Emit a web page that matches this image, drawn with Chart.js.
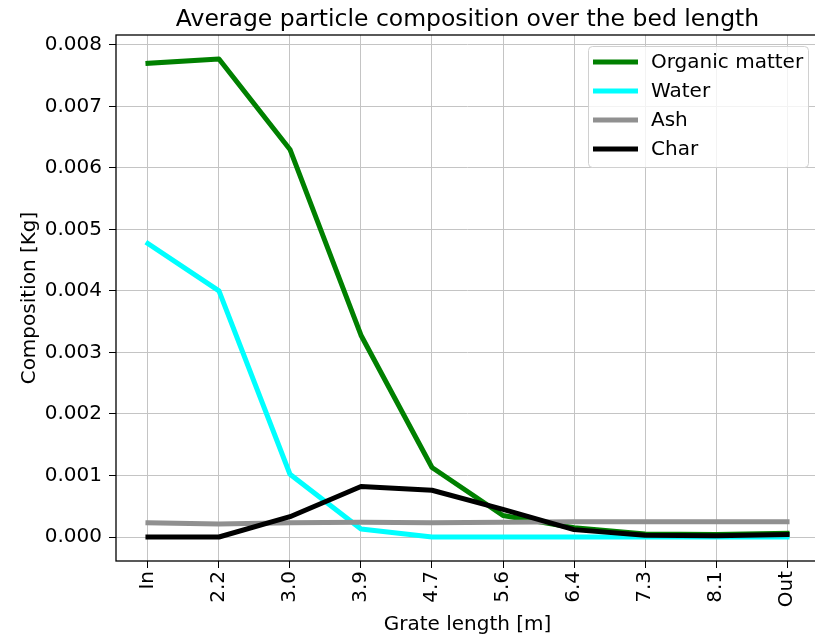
<!DOCTYPE html>
<html>
<head>
<meta charset="utf-8">
<script src="https://cdn.jsdelivr.net/npm/chart.js@4.4.1/dist/chart.umd.min.js"></script>
<style>
html, body { margin: 0; padding: 0; overflow: hidden; background: #fff; }
#wrap { width: 822px; height: 638px; }
</style>
</head>
<body>
<div id="wrap"><canvas id="grafico"></canvas></div>
<script>
// categorias do eixo x (comprimento da grelha)
var categorias = ['In', '2.2', '3.0', '3.9', '4.7', '5.6', '6.4', '7.3', '8.1', 'Out'];
// ticks do eixo y
var ticksY = [0, 0.001, 0.002, 0.003, 0.004, 0.005, 0.006, 0.007, 0.008];

// series
var organico = [0.00770, 0.00777, 0.00630, 0.00328, 0.00113, 0.00035, 0.00015, 0.00005, 0.00004, 0.00006];
var agua = [0.00477, 0.00400, 0.00102, 0.00013, 0.00000, 0.00000, 0.00000, 0.00000, 0.00000, 0.00000];
var cinza = [0.00023, 0.00021, 0.00023, 0.00024, 0.00023, 0.00024, 0.00025, 0.00025, 0.00025, 0.00025];
var carvao = [0.00000, 0.00000, 0.00033, 0.00082, 0.00076, 0.00045, 0.00012, 0.00003, 0.00002, 0.00004];

var titulo = 'Average particle composition over the bed length';
var fonte = '"DejaVu Sans", sans-serif';

function pontos(serie) {
    return serie.map(function (v, i) { return { x: i, y: v }; });
}

function serie(label, cor, valores, ordem) {
    return {
        label: label,
        data: pontos(valores),
        borderColor: cor,
        backgroundColor: cor,
        borderWidth: 5,
        borderCapStyle: 'square',
        borderJoinStyle: 'round',
        pointRadius: 0,
        tension: 0,
        fill: false,
        order: ordem
    };
}

// moldura, titulo e legenda no estilo matplotlib
var moldura = {
    id: 'moldura',
    afterDatasetsDraw: function (chart) {
        var ctx = chart.ctx, a = chart.chartArea;
        ctx.save();
        ctx.strokeStyle = '#000';
        ctx.lineWidth = 1.3;
        ctx.strokeRect(a.left, a.top, a.right - a.left, a.bottom - a.top);

        ctx.fillStyle = '#000';
        ctx.font = '23.5px ' + fonte;
        ctx.textAlign = 'center';
        ctx.textBaseline = 'alphabetic';
        ctx.fillText(titulo, (a.left + a.right) / 2, 26);

        // legenda
        ctx.beginPath();
        ctx.roundRect(588.5, 46.5, 220, 121, 4);
        ctx.fillStyle = 'rgba(255,255,255,0.8)';
        ctx.fill();
        ctx.strokeStyle = '#d0d0d0';
        ctx.lineWidth = 1;
        ctx.stroke();

        ctx.font = '20px ' + fonte;
        ctx.textAlign = 'left';
        ctx.textBaseline = 'middle';
        chart.data.datasets.forEach(function (ds, i) {
            var y = 62 + i * 29;
            ctx.beginPath();
            ctx.moveTo(593, y);
            ctx.lineTo(638, y);
            ctx.strokeStyle = ds.borderColor;
            ctx.lineWidth = 5;
            ctx.stroke();
            ctx.fillStyle = '#000';
            ctx.fillText(ds.label, 651, y + 1);
        });
        ctx.restore();
    }
};

var ctx = document.getElementById('grafico').getContext('2d');
var chart = new Chart(ctx, {
    type: 'line',
    data: {
        datasets: [
            serie('Organic matter', '#008000', organico, 4),
            serie('Water', '#00ffff', agua, 3),
            serie('Ash', '#909090', cinza, 2),
            serie('Char', '#000000', carvao, 1)
        ]
    },
    options: {
        responsive: true,
        maintainAspectRatio: false,
        animation: false,
        layout: { padding: { top: 35, right: 3, left: 0, bottom: 0 } },
        plugins: {
            legend: { display: false },
            tooltip: { enabled: false }
        },
        scales: {
            x: {
                type: 'linear',
                min: -0.45,
                max: 9.45,
                afterBuildTicks: function (scale) {
                    scale.ticks = categorias.map(function (c, i) { return { value: i }; });
                },
                afterFit: function (scale) { scale.height = 77; },
                ticks: {
                    autoSkip: false,
                    minRotation: 90,
                    maxRotation: 90,
                    padding: 3,
                    color: '#000',
                    font: { family: fonte, size: 20 },
                    callback: function (v) { return categorias[v]; }
                },
                grid: { color: '#c4c4c4', lineWidth: 1, tickColor: '#000', tickLength: 7 },
                border: { display: false },
                title: {
                    display: true,
                    text: 'Grate length [m]',
                    color: '#000',
                    font: { family: fonte, size: 20 },
                    padding: { top: 0, bottom: 1 }
                }
            },
            y: {
                min: -0.00039,
                max: 0.00816,
                afterBuildTicks: function (scale) {
                    scale.ticks = ticksY.map(function (v) { return { value: v }; });
                },
                afterFit: function (scale) { scale.width = 116; },
                ticks: {
                    padding: 7,
                    color: '#000',
                    font: { family: fonte, size: 20 },
                    callback: function (v) { return v.toFixed(3); }
                },
                grid: { color: '#c4c4c4', lineWidth: 1, tickColor: '#000', tickLength: 7 },
                border: { display: false },
                title: {
                    display: true,
                    text: 'Composition [Kg]',
                    color: '#000',
                    font: { family: fonte, size: 20 },
                    padding: { top: 18, bottom: 0 }
                }
            }
        }
    },
    plugins: [moldura]
});
</script>
</body>
</html>
